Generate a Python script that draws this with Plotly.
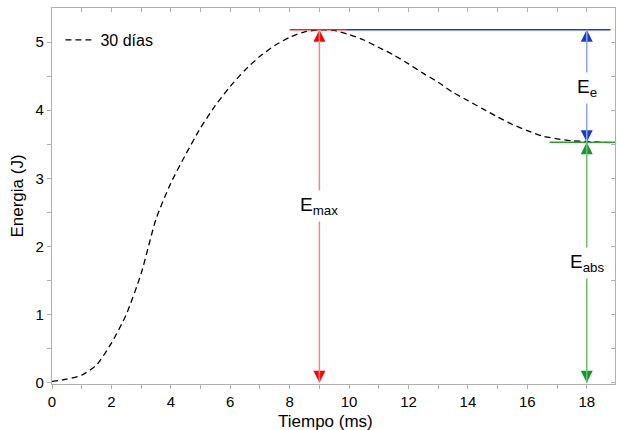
import plotly.graph_objects as go

tiempo = [0, 0.5, 1.0, 1.5, 2.0, 2.5, 3.0, 3.5, 4.0, 4.5, 5.0, 5.5, 6.0, 6.5, 7.0, 7.5, 8.0, 8.5, 9.0, 9.5,
          10.0, 10.5, 11.0, 11.5, 12.0, 12.5, 13.0, 13.5, 14.0, 14.5, 15.0, 15.5, 16.0, 16.5, 17.0, 17.5, 18.0, 18.5, 18.9]
energia = [0.02, 0.05, 0.11, 0.26, 0.58, 1.0, 1.6, 2.4, 2.93, 3.35, 3.74, 4.07, 4.35, 4.59, 4.79, 4.95, 5.07, 5.15, 5.18, 5.17,
           5.11, 5.03, 4.92, 4.81, 4.68, 4.54, 4.41, 4.26, 4.14, 4.02, 3.90, 3.79, 3.70, 3.62, 3.58, 3.55, 3.54, 3.53, 3.52]

e_max = 5.18
e_abs = 3.53
t_max = 9.0
t_end = 18.0

FONT = "Liberation Sans, Arial, sans-serif"

fig = go.Figure()
fig.add_trace(go.Scatter(x=tiempo, y=energia, mode="lines", name="30 días",
                         line=dict(color="black", width=1.3, dash="6px,4px", shape="spline", smoothing=0.6)))

# horizontal reference lines
fig.add_shape(type="line", x0=8.0, x1=9.9, y0=e_max, y1=e_max, line=dict(color="#ff2020", width=1.4))
fig.add_shape(type="line", x0=9.9, x1=18.8, y0=e_max, y1=e_max, line=dict(color="#2a33c8", width=1.4))
fig.add_shape(type="line", x0=16.75, x1=18.95, y0=e_abs, y1=e_abs, line=dict(color="#2ca02c", width=1.4))

# vertical double arrows: light shaft + saturated heads
arrows = [
    (t_max, 0, e_max, "#ee8a8a", "#ff0000"),
    (t_end, e_abs, e_max, "#8fa6e6", "#1a3ccc"),
    (t_end, 0, e_abs, "#6cc06c", "#14972e"),
]
for x, ya, yb, light, dark in arrows:
    fig.add_shape(type="line", x0=x, x1=x, y0=ya, y1=yb, line=dict(color=light, width=1.5))
    fig.add_trace(go.Scatter(x=[x, x], y=[ya, yb], mode="markers", showlegend=False, hoverinfo="skip",
                             cliponaxis=False,
                             marker=dict(symbol=["arrow-down", "arrow-up"], size=12, color=dark,
                                         line=dict(width=0))))

labels = [
    (t_max, 2.6, "E<sub>max</sub>"),
    (t_end, 4.32, "E<sub>e</sub>"),
    (t_end, 1.75, "E<sub>abs</sub>"),
]
for x, y, t in labels:
    fig.add_annotation(x=x, y=y, text=t, showarrow=False, bgcolor="white",
                       font=dict(family=FONT, size=19, color="black"), borderpad=3)

# x-axis title
fig.add_annotation(x=0.485, y=-0.071, xref="paper", yref="paper", text="Tiempo (ms)", showarrow=False,
                   xanchor="center", yanchor="top", borderpad=0,
                   font=dict(family=FONT, size=17, color="black"))

axis_common = dict(showline=True, linecolor="#b0b0b0", linewidth=1.2, ticks="outside",
                   tickcolor="#b0b0b0", ticklen=4, showgrid=False, zeroline=False,
                   tickfont=dict(family=FONT, size=15, color="black"))

fig.update_layout(
    width=617, height=430,
    margin=dict(l=52, r=2, t=8, b=46),
    plot_bgcolor="white", paper_bgcolor="white",
    xaxis=dict(range=[0, 18.95], tickmode="array", tickvals=list(range(0, 19, 2)),
               minor=dict(tickvals=list(range(1, 19, 2)), ticks="outside", ticklen=4, tickcolor="#b0b0b0"),
               **axis_common),
    yaxis=dict(range=[-0.02, 5.5], tickmode="array", tickvals=[0, 1, 2, 3, 4, 5],
               minor=dict(tickvals=[0.5, 1.5, 2.5, 3.5, 4.5], ticks="outside", ticklen=4, tickcolor="#b0b0b0"),
               title=dict(text="Energia (J)", font=dict(family=FONT, size=17, color="black"), standoff=7),
               **axis_common),
    xaxis2=dict(overlaying="x", matches="x", side="top", showline=True, linecolor="#b0b0b0", linewidth=1.2,
                ticks="inside", ticklen=4, tickcolor="#b0b0b0", showticklabels=False, showgrid=False,
                zeroline=False, tickmode="array", tickvals=list(range(0, 19, 1)), range=[0, 18.95]),
    yaxis2=dict(overlaying="y", matches="y", side="right", showline=True, linecolor="#b0b0b0", linewidth=1.2,
                ticks="inside", ticklen=4, tickcolor="#b0b0b0", showticklabels=False, showgrid=False,
                zeroline=False, tickmode="array", tickvals=[0, 0.5, 1, 1.5, 2, 2.5, 3, 3.5, 4, 4.5, 5, 5.5],
                range=[-0.02, 5.5]),
    showlegend=True,
    legend=dict(x=0.015, y=0.915, xanchor="left", yanchor="middle", bgcolor="rgba(0,0,0,0)",
                font=dict(family=FONT, size=16, color="black"), itemwidth=30),
)
# invisible trace to activate the mirror axes
fig.add_trace(go.Scatter(x=[0], y=[0], xaxis="x2", yaxis="y2", mode="markers",
                         marker=dict(opacity=0), showlegend=False, hoverinfo="skip"))

fig.write_html("out.html")
